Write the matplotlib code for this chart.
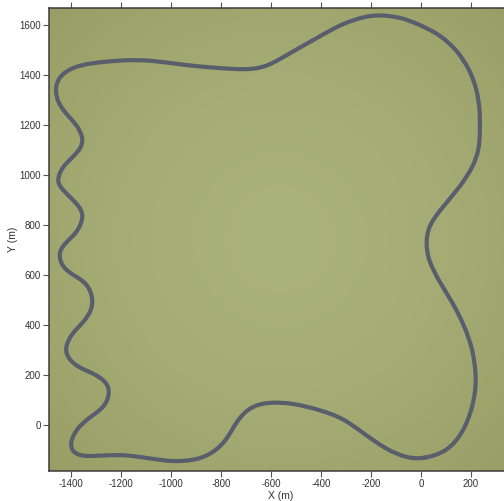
import numpy as np
import matplotlib
matplotlib.use("Agg")
import matplotlib.pyplot as plt
from matplotlib.path import Path
from matplotlib.patches import PathPatch

# Track centreline (m), closed loop
track_x = [8, 104, 168, 208, 224, 208, 176, 128, 76, 28, 20, 28, 76, 156, 208,
           232, 236, 236, 224, 196, 144, 72, -12, -84, -164, -216, -312, -416,
           -524, -616, -696, -816, -952, -1084, -1192, -1324, -1404, -1452,
           -1464, -1452, -1416, -1376, -1352, -1356, -1392, -1436, -1456, -1444,
           -1404, -1364, -1348, -1376, -1424, -1452, -1436, -1392, -1336, -1312,
           -1316, -1352, -1396, -1424, -1416, -1376, -1312, -1256, -1244, -1264,
           -1324, -1376, -1404, -1396, -1352, -1256, -1176, -1096, -992, -896,
           -832, -776, -736, -684, -616, -512, -404, -312, -232, -136, -56]
track_y = [-136, -108, -32, 72, 180, 300, 392, 488, 568, 660, 728, 792, 860, 952,
           1032, 1100, 1168, 1260, 1340, 1420, 1500, 1564, 1604, 1632, 1640, 1636,
           1608, 1548, 1488, 1432, 1420, 1428, 1440, 1460, 1460, 1448, 1428, 1388,
           1340, 1288, 1240, 1200, 1152, 1112, 1072, 1032, 980, 952, 912, 872, 832,
           768, 728, 688, 632, 600, 568, 512, 460, 408, 368, 312, 272, 232, 208,
           172, 128, 72, 32, -12, -68, -108, -128, -120, -120, -132, -148, -140,
           -112, -60, 20, 72, 92, 88, 60, 28, -32, -100, -132]

x_ticks = [-1400, -1200, -1000, -800, -600, -400, -200, 0, 200]
y_ticks = [0, 200, 400, 600, 800, 1000, 1200, 1400, 1600]

plt.rcParams['font.family'] = ['Liberation Sans', 'DejaVu Sans']
plt.rcParams['axes.unicode_minus'] = False

fig = plt.figure(figsize=(5.04, 5.01), dpi=100)
ax = fig.add_axes([49 / 504, 30 / 501, 463 / 504, 463 / 501])
xlim = (-1488, 364)
ylim = (-184, 1668)

# background: soft radial vignette
gx, gy = np.meshgrid(np.linspace(-1, 1, 300), np.linspace(-1, 1, 300))
r = np.clip(np.sqrt(gx ** 2 + gy ** 2) / 1.4, 0, 1)
c_in = np.array([170, 178, 123]) / 255
c_out = np.array([153, 158, 102]) / 255
w = r[..., None] ** 1.6
img = c_in[None, None, :] * (1 - w) + c_out[None, None, :] * w
ax.imshow(img, extent=[xlim[0], xlim[1], ylim[0], ylim[1]], origin='lower',
          aspect='auto', zorder=0, interpolation='bicubic')

# smooth closed curve: points used as a periodic cubic B-spline (Bezier form)
P = np.column_stack([track_x, track_y]).astype(float)
n = len(P)
verts, codes = [], []
for i in range(n):
    p0, p1, p2, p3 = P[i - 1], P[i], P[(i + 1) % n], P[(i + 2) % n]
    start = (p0 + 4 * p1 + p2) / 6
    if i == 0:
        verts.append(start)
        codes.append(Path.MOVETO)
    verts += [(2 * p1 + p2) / 3, (p1 + 2 * p2) / 3, (p1 + 4 * p2 + p3) / 6]
    codes += [Path.CURVE4] * 3
ax.add_patch(PathPatch(Path(verts, codes), fill=False, edgecolor='#595e6c',
                       lw=3.0, capstyle='round', joinstyle='round', zorder=2))

ax.set_xlim(*xlim)
ax.set_ylim(*ylim)
ax.set_aspect('auto')
ax.set_xticks(x_ticks)
ax.set_yticks(y_ticks)
ax.tick_params(direction='out', length=4, width=0.8, colors='#555555',
               labelsize=7, labelcolor='#333333', pad=2,
               top=True, right=True)
for s in ax.spines.values():
    s.set_color('#3c3c3c')
    s.set_linewidth(1.1)
ax.set_xlabel('X (m)', fontsize=7.5, color='#333333', labelpad=1)
ax.set_ylabel('Y (m)', fontsize=7.5, color='#333333', labelpad=0.5)

fig.savefig('out.png', dpi=100)
